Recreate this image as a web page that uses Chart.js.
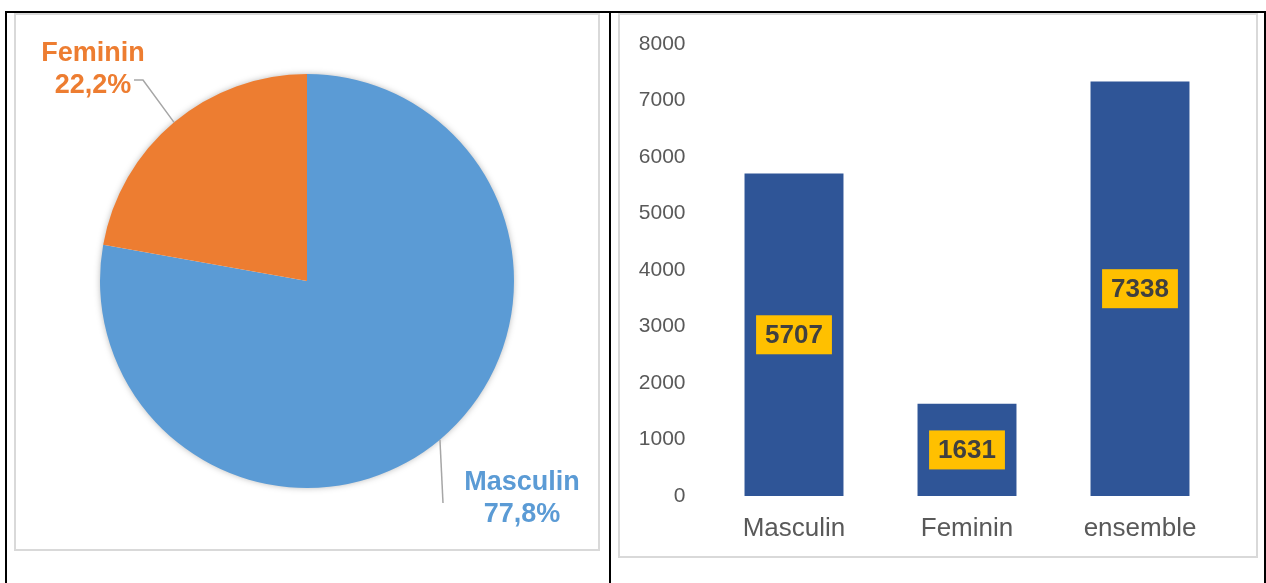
<!DOCTYPE html>
<html>
<head>
<meta charset="utf-8">
<script src="https://cdn.jsdelivr.net/npm/chart.js@4"></script>
<style>
  body { margin: 0; background: #fff; width: 1266px; height: 583px; overflow: hidden; position: relative; font-family: "Liberation Sans", Arial, sans-serif; }
  .line { position: absolute; background: #000; }
  .box { position: absolute; border: 2px solid #d9d9d9; box-sizing: border-box; background: #fff; }
  canvas { position: absolute; }
</style>
</head>
<body>
<div class="line" style="left:5px;top:11px;width:1261px;height:2px"></div>
<div class="line" style="left:5px;top:11px;width:2px;height:572px"></div>
<div class="line" style="left:609px;top:11px;width:2px;height:572px"></div>
<div class="line" style="left:1264px;top:11px;width:2px;height:572px"></div>
<div class="box" style="left:14px;top:13px;width:586px;height:538px"></div>
<div class="box" style="left:618px;top:13px;width:640px;height:545px"></div>
<canvas id="pie" width="581" height="535" style="left:16px;top:14px"></canvas>
<canvas id="bar" width="634" height="542" style="left:621px;top:14px"></canvas>
<script>
const pieCategories = ['Masculin', 'Feminin'];
const pieShares = [77.8, 22.2];
const pieColors = ['#5B9BD5', '#ED7D31'];

const barCategories = ['Masculin', 'Feminin', 'ensemble'];
const barValues = [5707, 1631, 7338];
const yTicks = [0, 1000, 2000, 3000, 4000, 5000, 6000, 7000, 8000];

// where each pie label sits, relative to the pie centre
const pieLabelPos = [
    { x: 215, y: 218, line: [[136, 222]] },
    { x: -214, y: -211, line: [[-164, -201], [-173, -201]] }
];

const pieShadow = {
    id: 'pieShadow',
    beforeDatasetsDraw(chart) {
        const arc = chart.getDatasetMeta(0).data[0];
        const ctx = chart.ctx;
        ctx.save();
        ctx.shadowColor = 'rgba(0,0,0,0.35)';
        ctx.shadowBlur = 7;
        ctx.fillStyle = '#fff';
        ctx.beginPath();
        ctx.arc(arc.x, arc.y, arc.outerRadius - 1, 0, Math.PI * 2);
        ctx.fill();
        ctx.restore();
    }
};

const pieLabels = {
    id: 'pieLabels',
    afterDatasetsDraw(chart) {
        const ctx = chart.ctx;
        chart.getDatasetMeta(0).data.forEach((arc, i) => {
            const mid = (arc.startAngle + arc.endAngle) / 2;
            const ex = arc.x + Math.cos(mid) * arc.outerRadius;
            const ey = arc.y + Math.sin(mid) * arc.outerRadius;
            const p = pieLabelPos[i];
            ctx.save();
            ctx.strokeStyle = '#a6a6a6';
            ctx.lineWidth = 1.5;
            ctx.beginPath();
            ctx.moveTo(ex, ey);
            p.line.forEach(pt => ctx.lineTo(arc.x + pt[0], arc.y + pt[1]));
            ctx.stroke();
            ctx.fillStyle = pieColors[i];
            ctx.font = 'bold 27px "Liberation Sans", Arial, sans-serif';
            ctx.textAlign = 'center';
            ctx.textBaseline = 'middle';
            ctx.fillText(pieCategories[i], arc.x + p.x, arc.y + p.y - 16);
            ctx.fillText(pieShares[i].toFixed(1).replace('.', ',') + '%', arc.x + p.x, arc.y + p.y + 16);
            ctx.restore();
        });
    }
};

new Chart(document.querySelector('#pie'), {
    type: 'pie',
    data: {
        labels: pieCategories,
        datasets: [{
            data: pieShares,
            backgroundColor: pieColors,
            borderWidth: 0
        }]
    },
    options: {
        responsive: false,
        animation: false,
        layout: { padding: { left: 84, right: 83, top: 60, bottom: 61 } },
        plugins: { legend: { display: false }, tooltip: { enabled: false } }
    },
    plugins: [pieShadow, pieLabels]
});

const barLabels = {
    id: 'barLabels',
    afterDatasetsDraw(chart) {
        const ctx = chart.ctx;
        chart.getDatasetMeta(0).data.forEach((bar, i) => {
            const txt = String(barValues[i]);
            const cy = (bar.y + bar.base) / 2;
            ctx.save();
            ctx.font = 'bold 26px "Liberation Sans", Arial, sans-serif';
            const w = ctx.measureText(txt).width + 18;
            ctx.fillStyle = '#FFC000';
            ctx.fillRect(bar.x - w / 2, cy - 19.5, w, 39);
            ctx.fillStyle = '#404040';
            ctx.textAlign = 'center';
            ctx.textBaseline = 'middle';
            ctx.fillText(txt, bar.x, cy + 1);
            ctx.restore();
        });
    }
};

new Chart(document.querySelector('#bar'), {
    type: 'bar',
    data: {
        labels: barCategories,
        datasets: [{
            data: barValues,
            backgroundColor: '#2F5597',
            categoryPercentage: 1,
            barPercentage: 0.572
        }]
    },
    options: {
        responsive: false,
        animation: false,
        layout: { padding: { top: 30, right: 28.5, left: 0, bottom: 0 } },
        plugins: { legend: { display: false }, tooltip: { enabled: false } },
        scales: {
            y: {
                min: 0,
                max: 8000,
                afterBuildTicks: axis => { axis.ticks = yTicks.map(v => ({ value: v })); },
                afterFit: axis => {
                    axis.width = 86.5;
                    axis.paddingTop = 0;
                    axis.paddingBottom = 0;
                },
                grid: { display: false },
                border: { display: false },
                ticks: {
                    padding: 14,
                    color: '#595959',
                    callback: v => String(v),
                    font: { family: '"Liberation Sans", Arial, sans-serif', size: 21 }
                }
            },
            x: {
                afterFit: axis => { axis.height = 60; },
                grid: { display: false },
                border: { display: false },
                ticks: {
                    padding: 9,
                    color: '#595959',
                    font: { family: '"Liberation Sans", Arial, sans-serif', size: 26 }
                }
            }
        }
    },
    plugins: [barLabels]
});
</script>
</body>
</html>
